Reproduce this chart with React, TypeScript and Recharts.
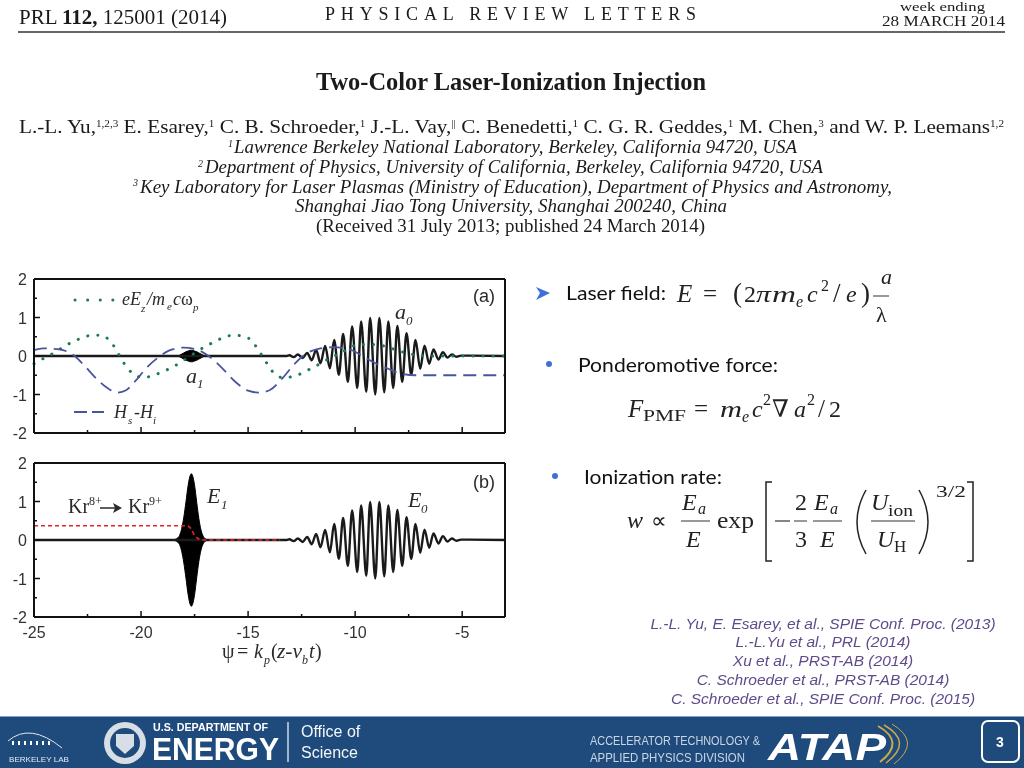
import { ComposedChart, Line, Area, XAxis, YAxis } from "recharts";

// psi values of the long pulse extrema (a) and (b)
const pulsePsi = [
  -25, -18.4, -16.95, -13.2,
  -13.07, -12.87, -12.68, -12.45, -12.24, -12.03, -11.82, -11.62, -11.4, -11.18,
  -10.98, -10.76, -10.56, -10.34, -10.14, -9.9, -9.72, -9.48, -9.3, -9.06,
  -8.87, -8.64, -8.45, -8.22, -8.03, -7.8, -7.6, -7.38, -7.18, -6.96,
  -6.76, -6.54, -6.34, -6.11, -5.9, -5.69, -5.48, -5.27, -5.05, -3,
];
const pulseVal = [
  0, 0, 0, 0,
  0.02, -0.03, 0.04, -0.05, 0.08, -0.11, 0.16, -0.19, 0.26, -0.32,
  0.42, -0.49, 0.57, -0.67, 0.77, -0.83, 0.9, -0.93, 0.99, -1.0,
  0.99, -0.94, 0.9, -0.83, 0.78, -0.67, 0.59, -0.49, 0.42, -0.33,
  0.27, -0.2, 0.17, -0.09, 0.1, -0.04, 0.04, -0.02, 0.01, 0,
];

// short pulse is too fast to resolve in the figure, so only its envelope is read
const burstPsi = [
  -18.45, -18.3, -18.2, -18.1, -18.0, -17.9, -17.8, -17.7, -17.65,
  -17.6, -17.5, -17.4, -17.3, -17.2, -17.1, -17.0, -16.9,
];
const e1Env = [0.01, 0.05, 0.12, 0.3, 0.6, 1.0, 1.42, 1.68, 1.72, 1.68, 1.42, 0.98, 0.56, 0.26, 0.1, 0.03, 0.01];
const a1Env = [0, 0, 0.02, 0.05, 0.08, 0.11, 0.13, 0.15, 0.15, 0.15, 0.13, 0.11, 0.08, 0.05, 0.02, 0, 0];

const ezPsi = [
  -25, -24.58, -24.2, -23.33, -22.86, -22.4, -21.9, -21.5, -21.2, -20.9, -20.7, -20.4,
  -19.9, -19.45, -19, -18.5, -17.7, -17.27, -16.85, -16.4, -16.15, -15.7, -15.15, -14.8,
  -14.5, -14.2, -13.94, -13.39, -12.97, -12.5, -12.05, -11.6, -11.2, -10.6, -10.1, -9.55,
  -9, -8.55, -8.15, -7.7, -7.2, -6.6, -3,
];
const ezVal = [
  -0.2, -0.07, 0.04, 0.33, 0.45, 0.53, 0.54, 0.42, 0.2, -0.1, -0.26, -0.45,
  -0.56, -0.51, -0.41, -0.28, 0, 0.16, 0.29, 0.42, 0.48, 0.54, 0.51, 0.37,
  0.14, -0.12, -0.35, -0.56, -0.54, -0.45, -0.32, -0.19, -0.06, 0.1, 0.26, 0.3,
  0.3, 0.24, 0.17, 0.09, 0.03, 0, 0,
];

const hPsi = [
  -25, -24.58, -23.8, -23.1, -22.6, -22.1, -21.55, -21.1, -20.7, -20.25, -19.7, -19.2,
  -18.7, -18, -17.4, -16.8, -16.2, -15.6, -15, -14.5, -14, -13.4, -12.87, -12.27,
  -11.8, -11, -10.2, -9.6, -9.05, -8.5, -7.9, -7.2, -3,
];
const hVal = [
  0.15, 0.2, 0.17, 0, -0.28, -0.58, -0.84, -0.95, -0.89, -0.64, -0.28, -0.04,
  0.14, 0.22, 0.17, -0.02, -0.32, -0.67, -0.9, -0.95, -0.89, -0.58, -0.23, 0.07,
  0.17, 0.23, 0.16, -0.02, -0.19, -0.32, -0.45, -0.5, -0.5,
];

const ionPsi = [-25, -17.95, -17.8, -17.65, -17.5, -17.35, -17.2, -13.5];
const ionVal = [0.37, 0.37, 0.36, 0.28, 0.12, 0.04, 0, 0];

const xTicks = [-25, -22.5, -20, -17.5, -15, -12.5, -10, -7.5, -5];
const yTicks = [-2, -1.5, -1, -0.5, 0, 0.5, 1, 1.5, 2];

const refLines = [
  "L.-L. Yu, E. Esarey, et al., SPIE Conf. Proc. (2013)",
  "L.-L.Yu et al., PRL (2014)",
  "Xu et al., PRST-AB (2014)",
  "C. Schroeder et al., PRST-AB (2014)",
  "C. Schroeder et al., SPIE Conf. Proc. (2015)",
];

const zip = (xs: number[], ys: number[]) => xs.map((psi, i) => ({ psi, v: ys[i] }));
const band = (xs: number[], env: number[]) => xs.map((psi, i) => ({ psi, band: [-env[i], env[i]] }));

const SERIF = "'Liberation Serif', serif";
const SANS = "'Liberation Sans', sans-serif";
const INK = "#111";

// inward tick, long on integers and short between
const AxisTick = ({ x, y, payload, side, label }: any) => {
  const v = payload.value;
  const major = side === "left" || side === "right" ? Number.isInteger(v) : v % 5 === 0;
  const len = major ? 6 : 3;
  const dx = side === "left" ? len : side === "right" ? -len : 0;
  const dy = side === "bottom" ? -len : side === "top" ? len : 0;
  return (
    <g>
      <line x1={x} y1={y} x2={x + dx} y2={y + dy} stroke={INK} strokeWidth={1.5} />
      {label && major && side === "left" && (
        <text x={x - 7} y={y + 6} textAnchor="end" fontFamily={SANS} fontSize={16} fill="#333">{v}</text>
      )}
      {label && major && side === "bottom" && (
        <text x={x} y={y + 21} textAnchor="middle" fontFamily={SANS} fontSize={16} fill="#333">{v}</text>
      )}
    </g>
  );
};

function Frame({ labelX }: { labelX: boolean }) {
  const axisLine = { stroke: INK, strokeWidth: 2 };
  return (
    <>
      <XAxis dataKey="psi" type="number" domain={[-25, -3]} ticks={xTicks} height={labelX ? 30 : 10} tickSize={0} tickMargin={0} interval={0} axisLine={axisLine} tickLine={false} tick={<AxisTick side="bottom" label={labelX} />} />
      <XAxis xAxisId="top" orientation="top" dataKey="psi" type="number" domain={[-25, -3]} ticks={xTicks} height={9} tickSize={0} tickMargin={0} interval={0} axisLine={axisLine} tickLine={false} tick={<AxisTick side="top" />} />
      <YAxis type="number" domain={[-2, 2]} ticks={yTicks} width={34} tickSize={0} tickMargin={0} interval={0} axisLine={axisLine} tickLine={false} tick={<AxisTick side="left" label />} />
      <YAxis yAxisId="right" orientation="right" type="number" domain={[-2, 2]} ticks={yTicks} width={15} tickSize={0} tickMargin={0} interval={0} axisLine={axisLine} tickLine={false} tick={<AxisTick side="right" />} />
    </>
  );
}

function PanelA() {
  return (
    <ComposedChart width={520} height={173} margin={{ top: 0, right: 0, bottom: 0, left: 0 }}>
      {Frame({ labelX: false })}
      <Line data={zip(pulsePsi, pulseVal)} dataKey="v" type="monotone" stroke="#1a1a1a" strokeWidth={2.4} dot={false} isAnimationActive={false} />
      <Area data={band(burstPsi, a1Env)} dataKey="band" type="monotone" fill="#000" fillOpacity={1} stroke="#000" strokeWidth={1} dot={false} isAnimationActive={false} />
      <Line data={zip(ezPsi, ezVal)} dataKey="v" type="monotone" stroke="#1d7a55" strokeWidth={3} strokeDasharray="0.1 10" strokeLinecap="round" dot={false} isAnimationActive={false} />
      <Line data={zip(hPsi, hVal)} dataKey="v" type="monotone" stroke="#4a549e" strokeWidth={1.8} strokeDasharray="13 7" dot={false} isAnimationActive={false} />
    </ComposedChart>
  );
}

function PanelB() {
  return (
    <ComposedChart width={520} height={193} margin={{ top: 0, right: 0, bottom: 0, left: 0 }}>
      {Frame({ labelX: true })}
      <Line data={zip(pulsePsi, pulseVal)} dataKey="v" type="monotone" stroke="#1a1a1a" strokeWidth={2.4} dot={false} isAnimationActive={false} />
      <Area data={band(burstPsi, e1Env)} dataKey="band" type="monotone" fill="#000" fillOpacity={1} stroke="#000" strokeWidth={1} dot={false} isAnimationActive={false} />
      <Line data={zip(ionPsi, ionVal)} dataKey="v" type="monotone" stroke="#e8222a" strokeWidth={1.6} strokeDasharray="4 3" dot={false} isAnimationActive={false} />
    </ComposedChart>
  );
}

const T = ({ x, y, s = 16, w, sp, it, b, f = SERIF, c = "#1a1a1a", a, children }: any) => (
  <text x={x} y={y} fontSize={s} fontFamily={f} fontStyle={it ? "italic" : undefined} fontWeight={b ? "bold" : undefined} fill={c} textAnchor={a} textLength={w} lengthAdjust={w ? (sp ? "spacing" : "spacingAndGlyphs") : undefined}>
    {children}
  </text>
);
const Sup = ({ t }: { t: string }) => (
  <>
    <tspan dy={-6} fontSize={10}>{t}</tspan>
    <tspan dy={6}>{" "}</tspan>
  </>
);

function PaperHeader() {
  return (
    <>
      <T x={19} y={24} s={20} w={208}>PRL <tspan fontWeight="bold">112,</tspan> 125001 (2014)</T>
      <T x={325} y={20} s={18} w={371} sp>PHYSICAL  REVIEW  LETTERS</T>
      <T x={900} y={11} s={12} w={85}>week ending</T>
      <T x={882} y={26} s={15} w={123}>28 MARCH 2014</T>
      <line x1={18} y1={32} x2={1005} y2={32} stroke="#333" strokeWidth={1.5} />
      <T x={316} y={90} s={25} w={390} b>Two-Color Laser-Ionization Injection</T>
      <T x={19} y={133} s={19} w={985}>
        L.-L. Yu,<Sup t="1,2,3" />E. Esarey,<Sup t="1" />C. B. Schroeder,<Sup t="1" />J.-L. Vay,<Sup t="||" />C. Benedetti,<Sup t="1" />C. G. R. Geddes,<Sup t="1" />M. Chen,<Sup t="3" />and W. P. Leemans<tspan dy={-6} fontSize={10}>1,2</tspan>
      </T>
      <T x={228} y={147} s={10} it>1</T>
      <T x={234} y={153} s={19} w={563} it>Lawrence Berkeley National Laboratory, Berkeley, California 94720, USA</T>
      <T x={198} y={167} s={10} it>2</T>
      <T x={205} y={173} s={19} w={618} it>Department of Physics, University of California, Berkeley, California 94720, USA</T>
      <T x={133} y={186} s={10} it>3</T>
      <T x={140} y={193} s={19} w={752} it>Key Laboratory for Laser Plasmas (Ministry of Education), Department of Physics and Astronomy,</T>
      <T x={295} y={212} s={19} w={432} it>Shanghai Jiao Tong University, Shanghai 200240, China</T>
      <T x={316} y={232} s={19} w={389}>(Received 31 July 2013; published 24 March 2014)</T>
    </>
  );
}

function PlotLabels() {
  const mid = "#2a2a2a";
  return (
    <>
      <line x1={75} y1={300} x2={113} y2={300} stroke="#1d7a55" strokeWidth={3} strokeDasharray="0.1 12.5" strokeLinecap="round" />
      <T x={122} y={305} s={18} it c={mid}>eE</T>
      <T x={141} y={312} s={11} it c={mid}>z</T>
      <T x={147} y={305} s={18} it c={mid}>/m</T>
      <T x={167} y={310} s={11} it c={mid}>e</T>
      <T x={173} y={305} s={18} it c={mid}>c</T>
      <T x={181} y={305} s={18} c={mid}>ω</T>
      <T x={193} y={311} s={11} it c={mid}>p</T>
      <line x1={74} y1={412} x2={104} y2={412} stroke="#4a549e" strokeWidth={1.8} strokeDasharray="13 5" />
      <T x={114} y={418} s={18} it c={mid}>H</T>
      <T x={128} y={424} s={11} it c={mid}>s</T>
      <T x={134} y={418} s={18} it c={mid}>-H</T>
      <T x={153} y={424} s={11} it c={mid}>i</T>
      <T x={186} y={383} s={22} it c={mid}>a</T>
      <T x={197} y={388} s={13} it c={mid}>1</T>
      <T x={395} y={319} s={22} it c={mid}>a</T>
      <T x={406} y={325} s={13} it c={mid}>0</T>
      <T x={473} y={302} s={18} f={SANS} c={mid}>(a)</T>
      <T x={473} y={488} s={18} f={SANS} c={mid}>(b)</T>

      <T x={68} y={513} s={20} c={mid}>Kr</T>
      <T x={89} y={505} s={12} c={mid}>8+</T>
      <line x1={100} y1={508} x2={118} y2={508} stroke={mid} strokeWidth={1.5} />
      <path d="M122 508 L113 503 L115 508 L113 513 Z" fill={mid} />
      <T x={128} y={513} s={20} c={mid}>Kr</T>
      <T x={149} y={505} s={12} c={mid}>9+</T>
      <T x={207} y={503} s={22} it c={mid}>E</T>
      <T x={221} y={509} s={13} it c={mid}>1</T>
      <T x={408} y={507} s={22} it c={mid}>E</T>
      <T x={421} y={513} s={13} it c={mid}>0</T>

      <T x={222} y={658} s={20} c={mid}>ψ</T>
      <T x={237} y={658} s={20} c={mid}>=</T>
      <T x={254} y={658} s={20} it c={mid}>k</T>
      <T x={264} y={664} s={12} it c={mid}>p</T>
      <T x={271} y={658} s={20} c={mid}>(</T>
      <T x={277} y={658} s={20} it w={25} c={mid}>z-v</T>
      <T x={302} y={664} s={12} it c={mid}>b</T>
      <T x={309} y={658} s={20} it c={mid}>t</T>
      <T x={315} y={658} s={20} c={mid}>)</T>
    </>
  );
}

function Equations() {
  const ital = { it: true, c: "#222" };
  const up = { c: "#222" };
  return (
    <>
      <path d="M536 287 L550 293 L536 300 L540 293 Z" fill="#3f6fd8" />
      <T x={566} y={300} s={19} w={100} f="Lato" c="#111">Laser field:</T>
      <T x={677} y={302} s={25} {...ital}>E</T>
      <T x={703} y={302} s={25} {...up}>=</T>
      <T x={733} y={302} s={27} {...up}>(</T>
      <T x={744} y={302} s={24} {...up}>2</T>
      <T x={756} y={302} s={24} w={15} {...ital}>π</T>
      <T x={772} y={302} s={24} w={24} {...ital}>m</T>
      <T x={796} y={307} s={16} {...ital}>e</T>
      <T x={807} y={302} s={24} {...ital}>c</T>
      <T x={821} y={291} s={16} {...up}>2</T>
      <T x={833} y={302} s={27} {...up}>/</T>
      <T x={846} y={302} s={24} {...ital}>e</T>
      <T x={861} y={302} s={27} {...up}>)</T>
      <T x={881} y={284} s={22} {...ital}>a</T>
      <line x1={873} y1={296} x2={889} y2={296} stroke="#333" strokeWidth={1} />
      <T x={876} y={322} s={22} {...up}>λ</T>

      <circle cx={549} cy={364} r={3} fill="#3f6fd8" />
      <T x={578} y={372} s={19} w={200} f="Lato" c="#111">Ponderomotive force:</T>
      <T x={628} y={417} s={25} {...ital}>F</T>
      <T x={643} y={421} s={17} w={43} {...up}>PMF</T>
      <T x={694} y={417} s={25} {...up}>=</T>
      <T x={720} y={417} s={24} w={22} {...ital}>m</T>
      <T x={742} y={422} s={16} {...ital}>e</T>
      <T x={752} y={417} s={24} {...ital}>c</T>
      <T x={763} y={405} s={16} {...up}>2</T>
      <T x={772} y={417} s={24} f="'DejaVu Serif'" {...up}>∇</T>
      <T x={794} y={417} s={24} {...ital}>a</T>
      <T x={807} y={405} s={16} {...up}>2</T>
      <T x={818} y={417} s={25} {...up}>/</T>
      <T x={829} y={417} s={24} {...up}>2</T>

      <circle cx={555} cy={476} r={3} fill="#3f6fd8" />
      <T x={584} y={484} s={19} w={138} f="Lato" c="#111">Ionization rate:</T>
      <T x={627} y={528} s={24} {...ital}>w</T>
      <T x={651} y={528} s={22} {...up}>∝</T>
      <T x={682} y={510} s={24} {...ital}>E</T>
      <T x={698} y={514} s={16} {...ital}>a</T>
      <line x1={681} y1={521} x2={710} y2={521} stroke="#333" strokeWidth={1} />
      <T x={686} y={547} s={24} {...ital}>E</T>
      <T x={717} y={528} s={24} w={37} {...up}>exp</T>
      <path d="M772 482 H766 V561 H772" fill="none" stroke="#222" strokeWidth={1.5} />
      <line x1={775} y1={521} x2={790} y2={521} stroke="#333" strokeWidth={1.2} />
      <T x={795} y={510} s={24} {...up}>2</T>
      <line x1={794} y1={521} x2={807} y2={521} stroke="#333" strokeWidth={1} />
      <T x={795} y={547} s={24} {...up}>3</T>
      <T x={814} y={510} s={24} {...ital}>E</T>
      <T x={830} y={514} s={16} {...ital}>a</T>
      <line x1={813} y1={521} x2={842} y2={521} stroke="#333" strokeWidth={1} />
      <T x={820} y={547} s={24} {...ital}>E</T>
      <path d="M866 490 Q848 522 866 554" fill="none" stroke="#222" strokeWidth={1.5} />
      <T x={871} y={510} s={24} {...ital}>U</T>
      <T x={888} y={516} s={17} w={25} {...up}>ion</T>
      <line x1={871} y1={521} x2={915} y2={521} stroke="#333" strokeWidth={1} />
      <T x={877} y={547} s={24} {...ital}>U</T>
      <T x={894} y={552} s={17} {...up}>H</T>
      <path d="M919 490 Q937 522 919 554" fill="none" stroke="#222" strokeWidth={1.5} />
      <T x={936} y={497} s={17} w={30} {...up}>3/2</T>
      <path d="M967 482 H973 V561 H967" fill="none" stroke="#222" strokeWidth={1.5} />
    </>
  );
}

function References() {
  const baselines = [629, 647, 666, 685, 704];
  return (
    <>
      {refLines.map((line, i) => (
        <T key={i} x={823} y={baselines[i]} s={15.5} it f={SANS} c="#5f4b8b" a="middle">{line}</T>
      ))}
    </>
  );
}

function Footer() {
  const dots = [12, 18, 24, 30, 36, 42, 48];
  return (
    <>
      <rect x={0} y={716} width={1024} height={52} fill="#1f4a7c" />
      <line x1={0} y1={716.5} x2={1024} y2={716.5} stroke="#7fa3c7" strokeWidth={1} />
      <path d="M8 741 Q30 722 62 748" fill="none" stroke="#dfe8f2" strokeWidth={1} />
      {dots.map((dx) => (
        <rect key={dx} x={dx} y={741} width={2} height={4} fill="#fff" />
      ))}
      <T x={9} y={762} s={7} w={60} f={SANS} c="#e6edf5">BERKELEY LAB</T>
      <circle cx={125} cy={743} r={21} fill="#d8dee6" />
      <circle cx={125} cy={743} r={15} fill="#1f4a7c" />
      <path d="M116 734 H134 V746 L125 754 L116 746 Z" fill="#d8dee6" />
      <T x={153} y={731} s={11} w={115} b f={SANS} c="#fff">U.S. DEPARTMENT OF</T>
      <T x={152} y={760} s={32} w={127} b f={SANS} c="#fff">ENERGY</T>
      <line x1={288} y1={722} x2={288} y2={762} stroke="#cdd9e6" strokeWidth={1.5} />
      <T x={301} y={737} s={16} f={SANS} c="#f4f7fa">Office of</T>
      <T x={301} y={758} s={16} f={SANS} c="#f4f7fa">Science</T>
      <T x={590} y={745} s={12} w={170} f={SANS} c="#c9d6e4">ACCELERATOR TECHNOLOGY &amp;</T>
      <T x={590} y={762} s={12} w={155} f={SANS} c="#c9d6e4">APPLIED PHYSICS DIVISION</T>
      <T x={768} y={760} s={36} w={118} it b f={SANS} c="#fff">ATAP</T>
      <path d="M878 726 Q906 742 880 762" fill="none" stroke="#c9a94a" strokeWidth={2} />
      <path d="M884 725 Q914 742 886 763" fill="none" stroke="#c9a94a" strokeWidth={1.5} />
      <path d="M892 724 Q922 742 894 764" fill="none" stroke="#c9a94a" strokeWidth={1} />
      <rect x={982} y={721} width={37} height={41} rx={6} fill="#1f4a7c" stroke="#fff" strokeWidth={2} />
      <T x={1000} y={747} s={14} b f={SANS} c="#fff" a="middle">3</T>
    </>
  );
}

export default function App() {
  return (
    <div style={{ position: "absolute", left: 0, top: 0, width: 1024, height: 768, background: "#fff", overflow: "hidden", filter: "blur(0.4px)" }}>
      <div style={{ position: "absolute", left: 0, top: 270 }}>
        <PanelA />
      </div>
      <div style={{ position: "absolute", left: 0, top: 454 }}>
        <PanelB />
      </div>
      <svg width={1024} height={768} style={{ position: "absolute", left: 0, top: 0, pointerEvents: "none" }}>
        <PaperHeader />
        <PlotLabels />
        <Equations />
        <References />
        <Footer />
      </svg>
    </div>
  );
}
